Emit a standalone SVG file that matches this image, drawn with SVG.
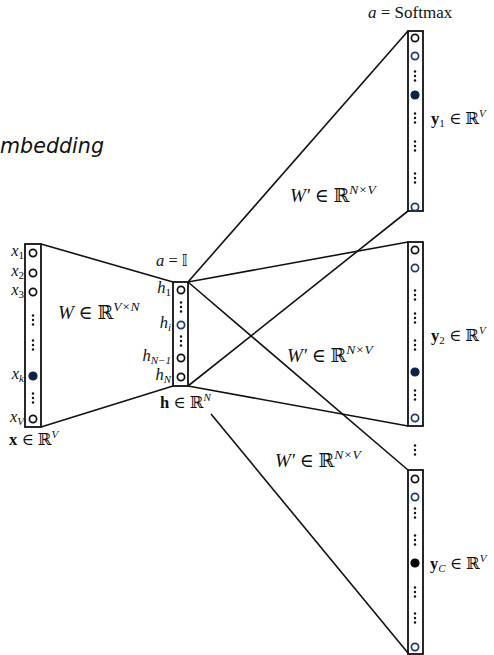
<svg xmlns="http://www.w3.org/2000/svg" width="494" height="655" viewBox="0 0 494 655">
<style>
.box{fill:#fff;stroke:#111;stroke-width:1.8}
.ob{fill:#fff;stroke:#111;stroke-width:1.7}
.bl{fill:#fff;stroke:#1f3a6b;stroke-width:1.7}
.fn{fill:#0f2147;stroke:#0f2147;stroke-width:1.2}
.fk{fill:#000;stroke:#000;stroke-width:1.2}
.ln{stroke:#111;stroke-width:1.6;fill:none}
.m{font-family:"Liberation Serif","DejaVu Serif",serif;fill:#111}
.i{font-style:italic}
.big{font-size:19px}
.lab{font-size:16.5px}
.sub{font-size:11px}
.ttl{font-family:"DejaVu Sans","Liberation Sans",sans-serif;font-style:italic;font-size:22px;fill:#111}
</style>
<defs>
<g id="vd"><circle cx="0" cy="-4.5" r="1.2" fill="#111"/><circle cx="0" cy="0" r="1.2" fill="#111"/><circle cx="0" cy="4.5" r="1.2" fill="#111"/></g>
</defs>
<text class="ttl" x="0" y="153" textLength="104" lengthAdjust="spacingAndGlyphs">mbedding</text>
<g id="connectors">
<line class="ln" x1="41" y1="244" x2="173" y2="282"/>
<line class="ln" x1="41" y1="427" x2="173" y2="386"/>
<line class="ln" x1="188" y1="282" x2="408" y2="31"/>
<line class="ln" x1="188" y1="282" x2="408" y2="242"/>
<line class="ln" x1="188" y1="282" x2="408" y2="470"/>
<line class="ln" x1="188" y1="386" x2="408" y2="211"/>
<line class="ln" x1="188" y1="386" x2="408" y2="426"/>
<line class="ln" x1="211" y1="414" x2="408" y2="653"/>
</g>
<g id="input-layer">
<rect class="box" x="25" y="244" width="16" height="183"/>
<circle class="ob" cx="33" cy="253" r="3.6"/>
<circle class="ob" cx="33" cy="273" r="3.6"/>
<circle class="ob" cx="33" cy="292" r="3.6"/>
<use href="#vd" x="33" y="320"/>
<use href="#vd" x="33" y="345"/>
<circle class="fn" cx="33" cy="376" r="4"/>
<use href="#vd" x="33" y="398"/>
<circle class="ob" cx="33" cy="419" r="3.6"/>
<text class="m i lab" x="24" y="256" text-anchor="end">x<tspan class="sub" dy="3" font-style="normal">1</tspan></text>
<text class="m i lab" x="24" y="276" text-anchor="end">x<tspan class="sub" dy="3" font-style="normal">2</tspan></text>
<text class="m i lab" x="24" y="295" text-anchor="end">x<tspan class="sub" dy="3" font-style="normal">3</tspan></text>
<text class="m i lab" x="24" y="379" text-anchor="end">x<tspan class="sub" dy="3">k</tspan></text>
<text class="m i lab" x="24" y="422" text-anchor="end">x<tspan class="sub" dy="3">V</tspan></text>
<text class="m lab" x="9" y="445"><tspan font-weight="bold">x</tspan> ∈ ℝ<tspan class="sub i" dy="-7">V</tspan></text>
</g>
<g id="hidden-layer">
<rect class="box" x="173" y="282" width="15" height="104"/>
<circle class="ob" cx="181" cy="290" r="3.6"/>
<use href="#vd" x="181" y="307"/>
<circle class="bl" cx="181" cy="325" r="3.6"/>
<use href="#vd" x="181" y="341"/>
<circle class="ob" cx="181" cy="358" r="3.6"/>
<circle class="ob" cx="181" cy="377" r="3.6"/>
<text class="m i lab" x="171" y="293" text-anchor="end">h<tspan class="sub" dy="3" font-style="normal">1</tspan></text>
<text class="m i lab" x="171" y="328" text-anchor="end">h<tspan class="sub" dy="3">i</tspan></text>
<text class="m i lab" x="171" y="361" text-anchor="end">h<tspan class="sub" dy="3">N−1</tspan></text>
<text class="m i lab" x="171" y="380" text-anchor="end">h<tspan class="sub" dy="3">N</tspan></text>
<text class="m lab" x="156" y="266"><tspan class="i">a</tspan> = <tspan font-family="DejaVu Sans" font-size="15">𝕀</tspan></text>
<text class="m lab" x="160" y="408"><tspan font-weight="bold">h</tspan> ∈ ℝ<tspan class="sub i" dy="-7">N</tspan></text>
</g>
<g id="output-1">
<rect class="box" x="408" y="31" width="15" height="180"/>
<circle class="ob" cx="415" cy="38" r="3.6"/>
<circle class="bl" cx="415" cy="56" r="3.6"/>
<use href="#vd" x="415" y="76"/>
<circle class="fn" cx="415" cy="95" r="4"/>
<use href="#vd" x="415" y="118"/>
<use href="#vd" x="415" y="146"/>
<use href="#vd" x="415" y="178"/>
<circle class="bl" cx="415" cy="207" r="3.6"/>
<text class="m" font-size="17" x="368" y="18"><tspan class="i">a</tspan> = Softmax</text>
<text class="m lab" x="431" y="124"><tspan font-weight="bold">y</tspan><tspan class="sub" dy="3">1</tspan><tspan dy="-3"> ∈ ℝ</tspan><tspan class="sub i" dy="-7">V</tspan></text>
</g>
<g id="output-2">
<rect class="box" x="408" y="242" width="15" height="184"/>
<circle class="ob" cx="415" cy="250" r="3.6"/>
<circle class="bl" cx="415" cy="268" r="3.6"/>
<use href="#vd" x="415" y="295"/>
<use href="#vd" x="415" y="318"/>
<use href="#vd" x="415" y="345"/>
<circle class="fn" cx="415" cy="372" r="4"/>
<use href="#vd" x="415" y="395"/>
<circle class="bl" cx="415" cy="418" r="3.6"/>
<text class="m lab" x="431" y="341"><tspan font-weight="bold">y</tspan><tspan class="sub" dy="3">2</tspan><tspan dy="-3"> ∈ ℝ</tspan><tspan class="sub i" dy="-7">V</tspan></text>
</g>
<use href="#vd" x="415" y="450"/>
<g id="output-C">
<rect class="box" x="408" y="470" width="15" height="184"/>
<circle class="ob" cx="415" cy="479" r="3.6"/>
<circle class="bl" cx="415" cy="497" r="3.6"/>
<use href="#vd" x="415" y="513"/>
<use href="#vd" x="415" y="540"/>
<circle class="fk" cx="415" cy="563" r="4"/>
<use href="#vd" x="415" y="592"/>
<use href="#vd" x="415" y="618"/>
<circle class="bl" cx="415" cy="647" r="3.6"/>
<text class="m lab" x="430" y="569"><tspan font-weight="bold">y</tspan><tspan class="sub i" dy="3">C</tspan><tspan dy="-3"> ∈ ℝ</tspan><tspan class="sub i" dy="-7">V</tspan></text>
</g>
<g id="weight-labels">
<text class="m big" x="58" y="319"><tspan class="i">W</tspan> ∈ ℝ<tspan class="i" dy="-8" font-size="13.5">V×N</tspan></text>
<text class="m big" x="290" y="202"><tspan class="i">W′</tspan> ∈ ℝ<tspan class="i" dy="-8" font-size="13.5">N×V</tspan></text>
<text class="m big" x="287" y="362"><tspan class="i">W′</tspan> ∈ ℝ<tspan class="i" dy="-8" font-size="13.5">N×V</tspan></text>
<text class="m big" x="275" y="467"><tspan class="i">W′</tspan> ∈ ℝ<tspan class="i" dy="-8" font-size="13.5">N×V</tspan></text>
</g>
</svg>
